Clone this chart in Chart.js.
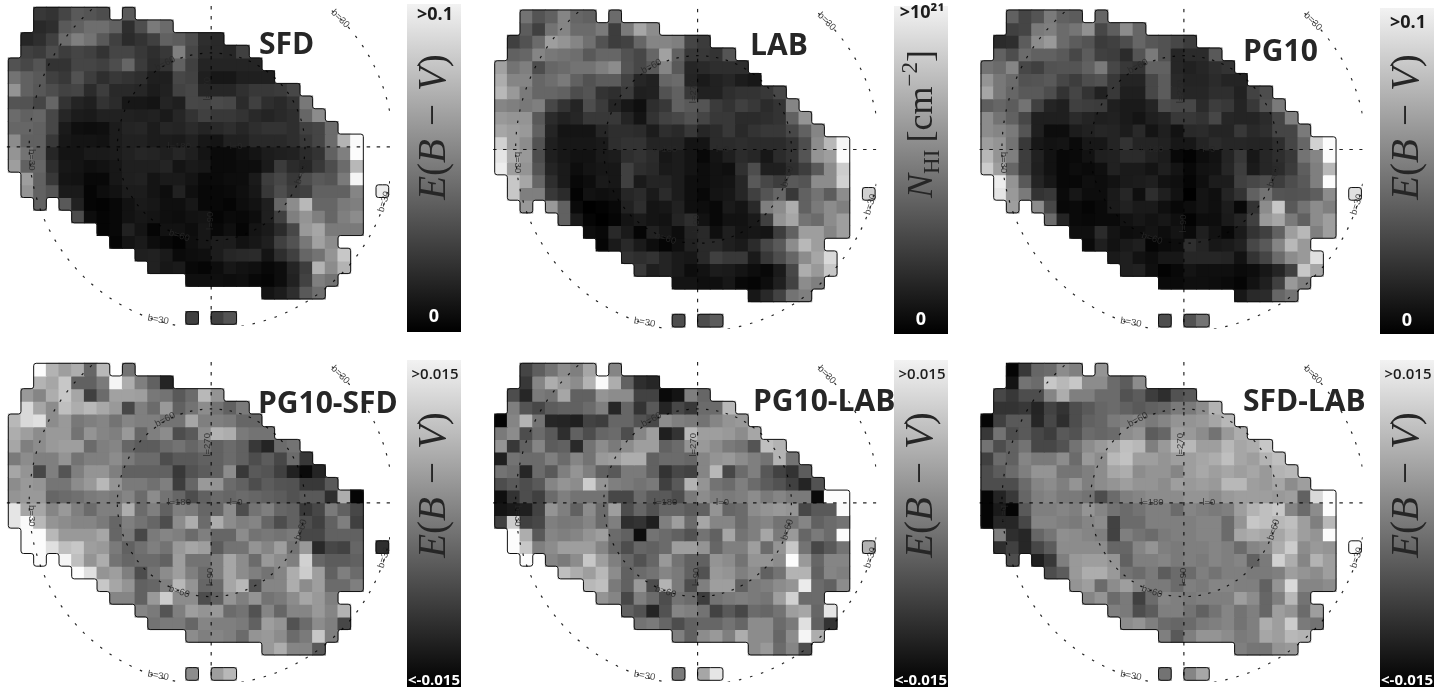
<!DOCTYPE html>
<html>
<head>
<meta charset="utf-8">
<title>Sky maps</title>
<style>
  body { margin: 0; background: #fff; width: 1453px; height: 689px; overflow: hidden; position: relative; }
  canvas { position: absolute; }
</style>
<script src="https://cdn.jsdelivr.net/npm/chart.js@4/dist/chart.umd.min.js"></script>
</head>
<body>
<script>
// which columns are filled on each row of the sky grid (first, last)
const rowSpans = [
  [[2, 7], [9, 9]], [[2, 12]], [[1, 16]], [[1, 18]], [[0, 19]], [[0, 20]], [[0, 22]], [[0, 23]], [[0, 24]], [[0, 25]],
  [[0, 27]], [[0, 27]], [[0, 27]], [[1, 27]], [[1, 27], [29, 29]], [[2, 2], [4, 27]], [[5, 27]], [[7, 27]], [[8, 25]],
  [[10, 26]], [[11, 26]], [[14, 25]], [[20, 24]], [], [[14, 14], [16, 17]]
];

// values in percent of the colour bar range, one list per row
const sfdValues = [
  [22,20,27,35,33,30,35],
  [16,18,35,38,43,43,38,18,30,48,42],
  [15,18,25,42,50,45,35,25,17,20,25,38,36,30,18,16],
  [25,23,30,24,27,25,20,27,27,22,18,22,50,28,17,16,15,25],
  [32,28,33,20,20,27,27,25,30,40,23,17,20,38,25,14,14,14,14,14],
  [45,38,35,25,22,32,24,18,22,20,18,12,12,28,26,12,9,9,12,12,12],
  [58,38,34,30,26,27,17,24,16,16,15,11,13,26,28,15,15,15,19,22,22,23,28],
  [33,32,27,40,20,14,12,20,17,9,9,8,14,12,28,27,29,28,17,25,18,16,20,47],
  [42,38,40,28,15,11,10,13,13,13,12,13,10,15,20,25,22,22,20,16,14,16,18,40,55],
  [40,40,38,28,10,6,5,6,11,14,15,11,15,14,17,14,16,18,15,18,20,20,18,25,27,42],
  [55,38,38,22,9,8,8,7,11,13,13,11,11,10,13,9,8,13,13,16,16,16,18,22,27,42,70,98],
  [58,45,38,15,8,8,10,10,11,13,15,14,12,15,12,8,4,4,6,8,11,12,13,17,20,38,50,99],
  [62,38,40,18,9,8,6,7,9,12,12,12,14,8,10,9,4,4,5,5,10,23,17,15,22,30,42,72],
  [62,38,22,8,7,3,3,9,12,13,8,10,10,8,4,4,5,5,10,24,28,22,30,35,33,48,96],
  [58,38,33,10,10,2,5,7,11,11,8,5,13,6,3,3,4,6,9,22,30,24,25,38,38,38,52,93],
  [38,35,13,2,1,3,7,10,9,6,6,9,3,3,2,5,7,12,40,55,72,40,40,48,50],
  [30,5,2,3,7,9,8,6,5,7,8,2,4,3,5,12,25,50,58,50,40,50,55],
  [2,3,13,8,2,7,7,5,9,3,6,2,8,10,17,28,60,65,48,48,48],
  [2,8,10,5,3,1,6,9,11,11,7,9,12,25,32,47,63,55],
  [12,13,10,4,5,6,11,15,16,17,8,18,25,40,45,58,78],
  [13,9,10,3,2,5,9,7,6,3,5,14,24,70,55,70],
  [6,6,6,5,6,3,2,5,13,26,50,45],
  [8,11,18,35,43],
  [],
  [25,25,33]
];
const labValues = [
  [45,33,38,52,40,38,42],
  [36,25,45,52,42,42,48,24,48,65,55],
  [25,32,42,62,58,52,44,32,24,26,40,52,52,50,27,23],
  [38,40,52,47,45,43,35,40,40,32,28,40,63,38,22,22,20,33],
  [63,45,50,30,40,42,45,45,50,55,33,28,35,52,35,15,16,18,18,18],
  [68,52,52,40,43,48,38,32,36,36,26,15,13,40,42,14,10,13,15,11,9],
  [72,60,48,40,40,38,30,33,20,18,23,12,13,32,38,22,13,13,18,20,20,22,28],
  [52,50,47,50,28,20,14,30,23,14,9,6,18,22,38,35,33,23,20,25,22,17,20,52],
  [60,58,58,35,17,13,15,22,22,22,14,8,20,26,28,32,27,22,22,17,17,18,20,38,58],
  [65,62,60,38,14,8,8,8,15,18,18,17,11,18,16,22,15,17,22,16,20,22,22,28,38,52],
  [82,62,55,32,12,9,9,9,10,18,20,20,14,14,14,8,8,17,17,18,17,17,17,20,30,55,72,96],
  [90,68,60,30,12,9,7,7,10,11,18,20,17,9,11,8,3,8,12,17,15,9,17,20,33,58,62,99],
  [93,62,58,33,14,10,5,8,9,9,25,18,16,10,11,8,5,7,6,19,30,12,12,18,24,35,55,80],
  [78,65,40,18,10,3,5,10,9,25,10,14,14,11,6,5,7,8,15,35,28,24,35,33,55,55,82],
  [78,50,50,22,17,1,7,6,7,15,17,10,17,11,6,3,8,9,15,25,33,40,22,38,45,36,55,82],
  [60,60,38,4,0,1,3,13,18,8,9,13,6,5,3,10,8,16,50,55,68,38,48,55,50],
  [38,10,2,0,2,8,10,8,7,14,18,7,3,7,7,10,25,58,65,45,42,55,62],
  [5,3,16,10,2,13,9,5,14,16,6,12,8,9,8,24,38,62,62,52,62],
  [2,10,16,10,5,2,6,13,16,16,12,10,17,28,35,55,72,62],
  [20,18,20,14,10,9,16,25,22,22,10,22,30,40,55,65,85],
  [22,12,14,10,5,7,11,10,8,5,3,10,28,68,60,78],
  [8,8,6,6,9,3,2,5,12,26,55,50],
  [9,16,26,45,50],
  [],
  [30,30,36]
];
const pg10Values = [
  [38,27,33,48,38,36,40],
  [25,27,48,50,42,46,57,28,37,55,40],
  [17,18,36,55,60,42,36,33,23,25,30,40,34,32,28,24],
  [38,30,42,38,38,35,28,36,25,24,17,33,48,32,15,17,17,35],
  [45,42,52,28,25,32,33,33,38,48,28,22,20,38,38,15,13,15,18,20],
  [58,47,42,32,33,35,28,24,30,32,22,14,14,28,36,16,14,14,17,14,14],
  [65,47,40,35,35,30,20,27,20,13,22,12,12,28,36,17,15,15,18,18,13,26,30],
  [37,40,36,45,25,14,12,25,24,23,12,10,10,14,30,28,28,17,24,22,14,22,32,48],
  [55,45,38,28,12,12,12,17,14,12,13,10,8,12,14,22,22,20,28,15,14,14,17,27,50],
  [55,52,48,33,12,5,5,11,13,15,14,11,16,8,12,7,16,17,14,14,22,16,18,27,27,48],
  [62,58,45,22,9,7,8,4,9,9,14,20,14,14,13,9,9,14,17,15,15,14,14,18,27,40,82,99],
  [72,58,50,24,13,7,3,4,7,12,13,17,17,13,11,3,1,5,7,14,22,9,15,18,22,45,52,99],
  [80,62,40,24,12,7,3,5,4,6,13,10,10,8,12,8,3,7,8,15,24,10,15,17,23,37,50,72],
  [93,58,35,14,9,3,3,6,5,7,10,11,12,7,6,2,6,11,11,25,28,30,24,30,35,50,99],
  [90,60,48,20,22,4,9,5,5,10,15,6,18,12,7,0,8,6,14,20,38,45,33,32,33,37,55,88],
  [62,55,28,3,4,2,4,10,13,10,10,6,3,5,8,6,11,3,20,55,78,35,45,55,50],
  [42,14,4,3,4,4,7,9,7,9,6,1,5,5,10,14,25,60,65,48,38,55,62],
  [6,6,17,8,5,6,8,5,8,4,12,7,3,10,20,25,38,62,72,50,62],
  [4,12,7,10,12,2,4,5,18,14,9,10,13,28,35,52,72,60],
  [10,12,7,5,9,9,15,15,15,14,7,20,27,42,55,60,88],
  [12,13,6,1,3,8,6,6,6,4,5,9,14,25,78,65],
  [4,4,6,6,5,4,2,7,12,25,60,50],
  [9,16,17,40,45],
  [],
  [30,32,45]
];
const pg10SfdValues = [
  [99,70,62,68,40,72,45],
  [70,65,78,38,38,48,96,68,50,38,14],
  [60,52,68,78,65,25,42,63,63,62,47,45,35,42,72,58],
  [85,65,55,75,68,72,66,60,28,50,42,60,38,45,55,45,38,48],
  [72,85,88,55,60,47,50,52,45,52,50,50,45,45,65,50,50,48,40,40],
  [68,62,55,60,60,45,58,52,50,60,40,50,55,30,35,55,70,68,48,45,45],
  [65,50,55,60,62,62,42,50,52,40,36,36,42,45,40,45,38,42,38,22,14,42,45],
  [48,55,50,50,58,45,50,50,55,48,42,42,30,35,35,38,38,42,38,30,36,28,42,22],
  [65,58,28,50,33,50,58,58,50,38,38,38,38,22,32,36,38,55,22,35,33,25,13,4,14],
  [55,60,58,46,46,55,60,72,58,48,48,44,50,24,40,60,58,42,38,30,36,33,32,22,22,35],
  [58,60,60,40,42,44,48,50,48,52,42,55,45,40,30,38,42,40,42,40,38,36,32,35,35,18,68,2],
  [90,65,65,52,60,50,42,50,50,68,42,50,38,50,48,40,40,55,30,45,50,40,38,22,28,48,38,28],
  [90,98,72,58,55,52,52,48,40,50,45,40,30,55,68,42,68,55,50,52,40,30,38,30,25,38,50,25],
  [99,99,72,60,60,60,65,40,48,28,48,52,50,42,50,40,40,55,45,47,45,48,28,28,38,38,38],
  [99,99,88,75,78,62,60,48,38,44,50,45,60,65,62,36,45,45,58,52,62,45,60,16,28,26,40,18],
  [99,96,75,58,68,45,40,42,42,38,62,45,45,50,65,55,42,60,55,50,82,40,36,36,38],
  [99,88,58,62,50,30,45,55,62,50,42,50,65,55,50,45,52,68,80,62,38,50,42],
  [78,65,58,38,40,50,72,58,40,42,65,72,32,52,52,68,55,62,42,42,50],
  [52,52,38,60,80,55,55,30,38,58,50,58,45,48,55,65,60,50],
  [52,48,33,50,62,58,60,42,45,32,52,40,52,52,60,52,70],
  [45,48,48,40,52,50,50,48,38,62,58,32,42,55,50,28],
  [55,50,52,50,42,58,60,55,42,48,78,50],
  [60,68,52,52,35],
  [],
  [55,62,72]
];
const pg10LabValues = [
  [27,37,45,55,50,65,52],
  [22,52,68,60,55,70,98,68,38,18,15],
  [30,15,48,45,65,38,38,58,55,55,26,26,4,8,50,40],
  [50,33,28,36,38,38,42,50,15,40,20,35,14,28,22,42,42,72],
  [2,52,70,45,15,14,12,26,24,40,40,32,28,55,50,48,45,52,58,60],
  [48,55,30,42,35,18,38,30,40,42,30,52,62,12,20,72,62,62,60,55,65],
  [58,22,38,52,36,38,16,45,55,48,55,62,62,38,42,58,60,55,48,45,33,75,70],
  [12,45,42,42,50,42,52,45,60,62,68,68,38,42,42,40,52,58,60,55,50,45,70,45],
  [45,42,15,42,35,50,58,50,38,35,48,48,38,20,28,26,52,72,28,42,50,34,26,20,36],
  [30,35,30,35,52,58,55,80,58,50,48,45,48,25,35,70,58,45,42,50,42,36,32,25,14,32],
  [6,20,30,25,42,50,45,45,45,28,28,42,35,35,30,48,55,50,48,50,55,48,52,48,48,4,99,99],
  [8,10,12,26,58,50,38,55,42,62,30,40,32,40,40,36,38,58,40,42,55,58,60,58,28,35,35,98],
  [25,80,25,28,50,47,48,52,42,50,18,20,12,50,62,42,65,52,52,42,50,52,45,45,52,38,42,45],
  [99,68,35,52,50,52,58,62,42,38,5,45,42,38,32,45,38,65,45,50,65,48,60,40,48,42,99],
  [99,78,50,55,62,62,62,52,40,30,40,38,42,62,62,58,40,50,50,62,42,58,78,45,28,35,45,70],
  [99,52,48,55,78,62,50,40,32,40,60,45,38,38,58,55,45,58,58,55,99,60,40,52,52],
  [75,68,62,72,55,38,42,45,52,48,38,32,60,58,50,55,38,45,70,70,38,52,50],
  [72,75,48,38,60,30,70,48,30,50,62,62,38,48,50,55,58,92,42,38,55],
  [58,52,28,50,42,30,45,42,24,45,48,50,48,46,62,82,42,42],
  [38,32,14,32,52,50,45,26,35,28,42,40,45,62,65,40,90],
  [45,48,40,30,38,40,40,45,40,55,55,42,48,88,38,20],
  [50,38,55,60,50,68,55,55,40,55,96,68],
  [55,60,42,52,30],
  [],
  [48,65,90]
];
const sfdLabValues = [
  [2,22,40,42,55,50,58],
  [8,45,42,78,72,78,55,55,42,36,55],
  [28,22,30,30,52,68,50,50,42,42,32,36,24,18,32,35],
  [20,20,22,14,26,20,30,35,40,42,38,35,38,40,48,48,55,70],
  [2,25,35,35,15,28,18,30,38,40,48,50,52,48,52,58,58,60,65,72],
  [22,45,30,35,28,24,35,32,42,40,42,55,58,36,40,62,60,55,45,60,68],
  [45,30,38,45,28,28,32,45,55,60,65,75,72,50,60,72,72,62,62,72,65,68,78],
  [25,42,38,52,48,48,55,42,60,55,72,76,62,62,58,62,62,65,68,75,65,62,70,75],
  [30,36,42,50,58,58,46,46,50,55,65,68,55,58,58,52,62,66,62,65,62,65,60,70,72],
  [30,30,30,42,52,55,50,58,50,55,58,62,58,58,55,62,60,62,60,72,72,62,60,65,55,62],
  [2,14,22,40,50,52,48,48,45,30,42,50,52,55,55,55,58,58,55,60,62,62,62,60,62,38,85,99],
  [2,10,2,35,50,50,52,50,58,52,45,42,45,50,50,42,52,50,48,50,62,70,75,78,52,42,55,99],
  [2,15,15,28,52,52,50,48,52,55,26,42,42,50,50,50,50,52,52,42,58,78,75,72,75,62,50,72],
  [50,18,15,40,46,56,55,52,50,26,50,45,42,48,50,50,52,52,42,65,68,65,65,72,62,58,99],
  [18,25,15,28,36,55,55,55,55,40,40,52,58,50,48,50,50,52,50,42,52,55,68,80,55,60,58,99],
  [30,12,22,50,60,62,62,58,38,50,50,52,48,50,48,52,50,52,38,48,82,68,52,70,62],
  [30,36,60,68,68,60,45,42,48,36,42,42,50,45,50,50,48,48,50,62,58,55,62],
  [58,62,42,55,62,52,48,48,42,50,48,52,52,50,50,38,58,85,52,52,55],
  [52,58,42,48,25,42,52,50,48,50,50,50,62,55,40,50,72,45],
  [50,48,30,36,50,50,45,38,45,52,45,50,40,62,58,42,62],
  [55,58,50,42,40,42,48,50,52,45,50,68,62,80,48,45],
  [50,35,50,58,58,55,48,50,65,62,72,70],
  [50,46,46,58,60],
  [],
  [45,52,65]
];

// graticule, in grid units around the centre of the map
const centreCol = 15.5, centreRow = 11;
const outerRadius = 14.35, innerRadius = 7.4;
const gridLabels = [
  ['b=30', 129, -128, 45], ['b=30', -53, 173, 10], ['b=30', 173, 55, -72], ['b=30', -180, 13, 90],
  ['b=60', -46, -83, -28], ['b=60', -32, 89, 18], ['b=60', 90, 27, -72],
  ['l=180', -32, 0, 0], ['l=0', 25, 0, 0], ['l=270', -4, -58, -90], ['l=90', -1, 74, -90]
];

const cell = 12.68;
const xMin = -0.63, xMax = 29.6, yMin = -0.1, yMax = 25.13;

const ebv = [['E', 'i'], ['(', 'r'], ['B', 'i'], ['\u2004\u2212\u2004', 'r'], ['V', 'i'], [')', 'r']];
const nhi = [['N', 'i'], ['HI', 's'], ['\u2009[cm', 'r'], ['\u22122', 'u'], [']', 'r']];

const panels = [
  { values: sfdValues, title: 'SFD', left: 8.3, top: 7.3, cLeft: 0, cTop: 0, titleX: 259, titleY: 54,
    barX: 407, barTop: 4, barBottom: 332, hi: '>0.1', hiY: 20, lo: '0', loY: 322, hiFont: 18, loFont: 18, math: ebv, mathY: 127 },
  { values: labValues, title: 'LAB', left: 494.7, top: 10, cLeft: 486, cTop: 0, titleX: 750, titleY: 55,
    barX: 894, barTop: 6, barBottom: 334, hi: '>10\u00B2\u00B9', hiY: 18, lo: '0', loY: 325, hiFont: 18, loFont: 18, math: nhi, mathY: 124 },
  { values: pg10Values, title: 'PG10', left: 981, top: 10, cLeft: 972, cTop: 0, titleX: 1243, titleY: 61,
    barX: 1380, barTop: 8, barBottom: 334, hi: '>0.1', hiY: 28, lo: '0', loY: 326, hiFont: 18, loFont: 18, math: ebv, mathY: 127 },
  { values: pg10SfdValues, title: 'PG10-SFD', left: 8.3, top: 363.3, cLeft: 0, cTop: 352, titleX: 258, titleY: 412.5,
    barX: 407, barTop: 360, barBottom: 687, hi: '>0.015', hiY: 379, lo: '<-0.015', loY: 685, hiFont: 15, loFont: 15, math: ebv, mathY: 485 },
  { values: pg10LabValues, title: 'PG10-LAB', left: 494.7, top: 363.3, cLeft: 486, cTop: 352, titleX: 753, titleY: 411,
    barX: 894, barTop: 360, barBottom: 687, hi: '>0.015', hiY: 379, lo: '<-0.015', loY: 685, hiFont: 15, loFont: 15, math: ebv, mathY: 485 },
  { values: sfdLabValues, title: 'SFD-LAB', left: 981, top: 363.3, cLeft: 972, cTop: 352, titleX: 1243, titleY: 411,
    barX: 1380, barTop: 360, barBottom: 687, hi: '>0.015', hiY: 379, lo: '<-0.015', loY: 685, hiFont: 15, loFont: 15, math: ebv, mathY: 485 }
];

function rowColumns(r) {
  const cols = [];
  rowSpans[r].forEach(s => { for (let c = s[0]; c <= s[1]; c++) cols.push(c); });
  return cols;
}

function grey(v) {
  const g = Math.round(v * 2.55);
  return `rgb(${g},${g},${g})`;
}

// walk the cell edges into closed loops, corners of the grid as [col, row]
function outlineLoops() {
  const filled = new Set();
  rowSpans.forEach((_, r) => rowColumns(r).forEach(c => filled.add(c + ',' + r)));
  const edges = {};
  const add = (a, b) => { (edges[a] = edges[a] || []).push(b); };
  filled.forEach(k => {
    const [c, r] = k.split(',').map(Number);
    if (!filled.has(c + ',' + (r - 1))) add(c + ',' + r, (c + 1) + ',' + r);
    if (!filled.has((c + 1) + ',' + r)) add((c + 1) + ',' + r, (c + 1) + ',' + (r + 1));
    if (!filled.has(c + ',' + (r + 1))) add((c + 1) + ',' + (r + 1), c + ',' + (r + 1));
    if (!filled.has((c - 1) + ',' + r)) add(c + ',' + (r + 1), c + ',' + r);
  });
  const loops = [];
  Object.keys(edges).forEach(start => {
    while (edges[start].length) {
      const loop = [];
      let at = start;
      do {
        loop.push(at.split(',').map(Number));
        at = edges[at].shift();
      } while (at !== start);
      loops.push(loop.filter((p, i) => {
        const a = loop[(i + loop.length - 1) % loop.length], b = loop[(i + 1) % loop.length];
        return !(a[0] === p[0] && p[0] === b[0]) && !(a[1] === p[1] && p[1] === b[1]);
      }));
    }
  });
  return loops;
}
const loops = outlineLoops();

function drawMath(ctx, runs, x, y) {
  const big = runs === nhi ? 36 : 39;
  const fonts = {
    i: [`italic ${big}px "Liberation Serif"`, 0],
    r: [`${big}px "Liberation Serif"`, 0],
    s: ['23px "Liberation Serif"', 7],
    u: ['23px "Liberation Serif"', -15]
  };
  let total = 0;
  runs.forEach(r => { ctx.font = fonts[r[1]][0]; total += ctx.measureText(r[0]).width; });
  ctx.save();
  ctx.translate(x, y);
  ctx.rotate(-Math.PI / 2);
  ctx.fillStyle = '#262626';
  ctx.textAlign = 'left';
  ctx.textBaseline = 'alphabetic';
  let pos = -total / 2;
  runs.forEach(r => {
    ctx.font = fonts[r[1]][0];
    ctx.fillText(r[0], pos, fonts[r[1]][1]);
    pos += ctx.measureText(r[0]).width;
  });
  ctx.restore();
}

const mapExtras = {
  id: 'mapExtras',
  afterDatasetsDraw(chart, args, opts) {
    const p = opts.panel;
    const { ctx, chartArea: area, scales: { x, y } } = chart;
    const px = c => x.getPixelForValue(c);
    const py = r => y.getPixelForValue(r);
    const cx = px(centreCol), cy = py(centreRow);
    ctx.save();

    // outline round the filled cells
    ctx.strokeStyle = '#111';
    ctx.lineWidth = 1;
    loops.forEach(loop => {
      const pts = loop.map(q => [px(q[0] - 0.5), py(q[1])]);
      const n = pts.length;
      ctx.beginPath();
      ctx.moveTo((pts[0][0] + pts[1][0]) / 2, (pts[0][1] + pts[1][1]) / 2);
      for (let i = 1; i <= n; i++) {
        const a = pts[i % n], b = pts[(i + 1) % n];
        ctx.arcTo(a[0], a[1], b[0], b[1], 2.5);
      }
      ctx.closePath();
      ctx.stroke();
    });

    // graticule
    ctx.save();
    ctx.beginPath();
    ctx.rect(area.left, area.top, area.width, area.height);
    ctx.clip();
    ctx.strokeStyle = 'rgba(0,0,0,0.85)';
    ctx.lineWidth = 1.2;
    ctx.setLineDash([3.5, 6.5]);
    ctx.beginPath();
    ctx.moveTo(area.left, cy);
    ctx.lineTo(area.right, cy);
    ctx.moveTo(cx, area.top);
    ctx.lineTo(cx, area.bottom);
    ctx.stroke();
    ctx.setLineDash([2.5, 9]);
    ctx.beginPath();
    ctx.arc(cx, cy, px(centreCol + outerRadius) - cx, 0, Math.PI * 2);
    ctx.stroke();
    ctx.setLineDash([2.5, 7.5]);
    ctx.beginPath();
    ctx.arc(cx, cy, px(centreCol + innerRadius) - cx, 0, Math.PI * 2);
    ctx.stroke();
    ctx.restore();

    ctx.fillStyle = 'rgba(40,40,40,0.85)';
    ctx.font = '9.5px "Liberation Sans"';
    ctx.textAlign = 'center';
    ctx.textBaseline = 'middle';
    gridLabels.forEach(l => {
      ctx.save();
      ctx.translate(cx + l[1], cy + l[2]);
      ctx.rotate(l[3] * Math.PI / 180);
      ctx.fillText(l[0], 0, 0);
      ctx.restore();
    });

    // panel title
    ctx.fillStyle = '#262626';
    ctx.font = 'bold 30px "Open Sans"';
    ctx.textAlign = 'left';
    ctx.textBaseline = 'alphabetic';
    ctx.fillText(p.title, p.titleX - p.cLeft, p.titleY - p.cTop);

    // colour bar
    const bx = p.barX - p.cLeft, bt = p.barTop - p.cTop, bb = p.barBottom - p.cTop;
    const grad = ctx.createLinearGradient(0, bt, 0, bb);
    grad.addColorStop(0, '#f2f2f2');
    grad.addColorStop(1, '#000');
    ctx.fillStyle = grad;
    ctx.fillRect(bx, bt, 54, bb - bt);
    ctx.textAlign = 'center';
    ctx.fillStyle = '#1c1c1c';
    ctx.font = (p.hiFont === 18 ? 'bold ' : '600 ') + p.hiFont + 'px "Open Sans"';
    ctx.fillText(p.hi, bx + 28, p.hiY - p.cTop);
    ctx.fillStyle = '#fff';
    ctx.font = 'bold ' + p.loFont + 'px "Open Sans"';
    ctx.fillText(p.lo, bx + 27, p.loY - p.cTop);
    drawMath(ctx, p.math, bx + 38, p.mathY - p.cTop);
    ctx.restore();
  }
};

panels.forEach(p => {
  const canvas = document.createElement('canvas');
  const w = 481, h = p.cTop ? 337 : 340;
  canvas.width = w;
  canvas.height = h;
  canvas.style.left = p.cLeft + 'px';
  canvas.style.top = p.cTop + 'px';
  document.body.appendChild(canvas);

  const datasets = rowSpans.map((_, r) => {
    const cols = rowColumns(r);
    return {
      data: cols.map(c => ({ x: c, y: [r, r + 1] })),
      backgroundColor: cols.map((c, i) => grey(p.values[r][i])),
      borderWidth: 0,
      inflateAmount: 0.5,
      barPercentage: 1,
      categoryPercentage: 1,
      grouped: false
    };
  });

  const areaLeft = p.left + (xMin + 0.5) * cell - p.cLeft;
  const areaTop = p.top + yMin * cell - p.cTop;
  new Chart(canvas.getContext('2d'), {
    type: 'bar',
    data: { datasets },
    options: {
      responsive: false,
      animation: false,
      layout: {
        padding: {
          left: areaLeft,
          top: areaTop,
          right: w - areaLeft - (xMax - xMin) * cell,
          bottom: h - areaTop - (yMax - yMin) * cell
        }
      },
      scales: {
        x: { type: 'linear', offset: false, min: xMin, max: xMax, display: false },
        y: { type: 'linear', reverse: true, min: yMin, max: yMax, display: false }
      },
      plugins: {
        legend: { display: false },
        tooltip: { enabled: false },
        mapExtras: { panel: p }
      }
    },
    plugins: [mapExtras]
  });
});
</script>
</body>
</html>
